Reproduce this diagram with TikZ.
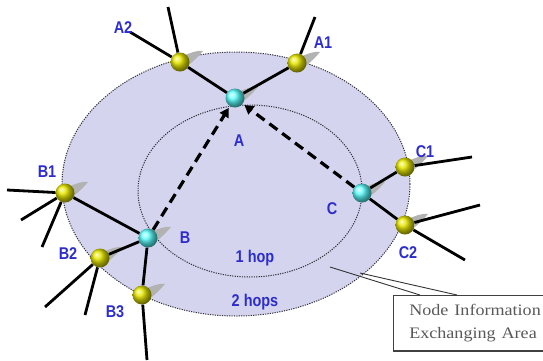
\documentclass[tikz,border=0pt]{standalone}
\usepackage{fontspec}
\setmainfont{Liberation Serif}
\newfontfamily\lblfont{Liberation Sans}
\usetikzlibrary{arrows.meta,calc,positioning}

\definecolor{areafill}{RGB}{212,212,238}
\definecolor{ringline}{RGB}{50,50,60}
\definecolor{lblblue}{RGB}{45,45,205}

\tikzset{
  hopnode/.style={circle, minimum size=19pt, inner sep=0pt, ball color=yellow!80!olive},
  srcnode/.style={circle, minimum size=19pt, inner sep=0pt, ball color=cyan!65},
  ring/.style={draw=ringline, dash pattern=on 1.2pt off 1.2pt, line width=1pt, fill=areafill},
  link/.style={line width=2.8pt, black},
  hoplink/.style={line width=3.2pt, dash pattern=on 10pt off 6pt, shorten >=2pt,
    -{Triangle[length=9pt,width=10pt]}},
  lbl/.style={text=lblblue, font=\lblfont\bfseries\fontsize{17}{17}\selectfont,
    inner sep=0pt, xscale=0.85},
  infobox/.style={draw=black!75, line width=0.8pt, fill=white, align=left,
    text=black!65, font=\fontsize{16}{23}\selectfont, inner xsep=14pt, text width=142pt,
    minimum height=55pt, xscale=1.13},
  tail/.pic={\fill[gray!60] (3,-6) .. controls (10,-9) and (17,-12) .. (23,-11)
    .. controls (17,-4) and (10,3) .. (3,6) -- cycle;},
}

\begin{document}
\begin{tikzpicture}[x=1pt,y=-1pt]
  \useasboundingbox (0,0) rectangle (543,360);
  % areas
  \draw[ring] (236,184) ellipse [x radius=174, y radius=132];
  \draw[ring] (250,191) ellipse [x radius=112, y radius=86];

  % shadows behind the nodes
  \foreach \p in {(235,98),(297,63),(180,62),(148,238),(65,193),(100,258),(142,295),(362,193),(405,167),(405,225)}
    \pic at \p {tail};

  % nodes
  \node[srcnode] (A) at (235,98) {};
  \node[hopnode] (A1) at (297,63) {};
  \node[hopnode] (A2) at (180,62) {};
  \node[srcnode] (B) at (148,238) {};
  \node[hopnode] (B1) at (65,193) {};
  \node[hopnode] (B2) at (100,258) {};
  \node[hopnode] (B3) at (142,295) {};
  \node[srcnode] (C) at (362,193) {};
  \node[hopnode] (C1) at (405,167) {};
  \node[hopnode] (C2) at (405,225) {};

  % free ends of outer links
  \coordinate (a1o) at (315,17);
  \coordinate (a2o1) at (168,7);
  \coordinate (a2o2) at (130,32);
  \coordinate (b1o1) at (7,190);
  \coordinate (b1o2) at (21,220);
  \coordinate (b1o3) at (42,247);
  \coordinate (b2o1) at (45,307);
  \coordinate (b2o2) at (85,315);
  \coordinate (b3o) at (147,360);
  \coordinate (c1o) at (472,157);
  \coordinate (c2o1) at (480,205);
  \coordinate (c2o2) at (465,260);

  % links
  \draw[link] (A) -- (A1) (A) -- (A2);
  \draw[link] (B) -- (B1) (B) -- (B2) (B) -- (B3);
  \draw[link] (C) -- (C1) (C) -- (C2);
  \draw[link] (A1) -- (a1o);
  \draw[link] (A2) -- (a2o1) (A2) -- (a2o2);
  \draw[link] (B1) -- (b1o1) (B1) -- (b1o2) (B1) -- (b1o3);
  \draw[link] (B2) -- (b2o1) (B2) -- (b2o2);
  \draw[link] (B3) -- (b3o);
  \draw[link] (C1) -- (c1o);
  \draw[link] (C2) -- (c2o1) (C2) -- (c2o2);

  % info exchange towards A
  \draw[hoplink] (B) -- (A);
  \draw[hoplink] (C) -- (A);

  % labels
  \node[lbl] (lA) at (239,141) {A};
  \node[lbl] (lA1) at (323,43) {A1};
  \node[lbl] (lA2) at (123,28) {A2};
  \node[lbl] (lB) at (185,238) {B};
  \node[lbl] (lB1) at (47,172) {B1};
  \node[lbl] (lB2) at (68,254) {B2};
  \node[lbl] (lB3) at (115,312) {B3};
  \node[lbl] (lC) at (332,209) {C};
  \node[lbl] (lC1) at (425,152) {C1};
  \node[lbl] (lC2) at (408,253) {C2};
  \node[lbl] (hop1) at (255,258) {1 hop};
  \node[lbl] (hop2) at (255,302) {2 hops};

  % legend
  \node[infobox, anchor=north west] (info) at (393,295) {Node Information\\Exchanging Area};
  \draw[black!75, line width=1.6pt] (info.south west) -- (info.south east);
  \coordinate (p1) at (330,267);
  \coordinate (p2) at (360,273);
  \draw[black!80, line width=0.9pt] ($(info.north west)+(27,0)$) -- (p1);
  \draw[black!80, line width=0.9pt] ($(info.north west)+(64,0)$) -- (p2);
\end{tikzpicture}
\end{document}
